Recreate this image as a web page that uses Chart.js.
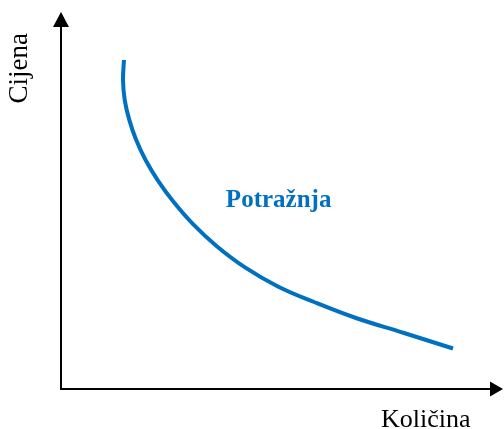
<!DOCTYPE html>
<html>
<head>
<meta charset="utf-8">
<script src="https://cdn.jsdelivr.net/npm/chart.js@4/dist/chart.umd.min.js"></script>
<style>
html,body{margin:0;padding:0;background:#fff;}
#c{display:block;}
</style>
</head>
<body>
<canvas id="c" width="504" height="429"></canvas>
<script>
// Demand curve data (quantity, price) in abstract units 0..100
const quantity = [14.25, 14.03, 14.41, 15.45, 16.99, 19.10, 21.90, 25.36, 29.82, 35.11, 41.63, 49.07, 57.24, 66.74, 77.60, 88.69];
const price    = [87.27, 81.96, 76.68, 71.38, 66.10, 60.82, 55.36, 49.79, 43.79, 38.01, 32.25, 27.21, 23.08, 18.83, 14.85, 10.74];
const axisLabels = {x: 'Količina', y: 'Cijena'};
const curveLabel = 'Potražnja';
const curveLabelPos = [37.3, 48.3];

const points = quantity.map((q, i) => ({x: q, y: price[i]}));

const axesPlugin = {
  id: 'axesArrows',
  afterDraw(chart) {
    const {ctx, scales: {x, y}} = chart;
    const x0 = x.getPixelForValue(0), x1 = x.getPixelForValue(100);
    const y0 = y.getPixelForValue(0), y1 = y.getPixelForValue(100);
    ctx.save();
    ctx.strokeStyle = '#000';
    ctx.fillStyle = '#000';
    ctx.lineWidth = 2;
    ctx.beginPath();
    ctx.moveTo(x0, y1 + 14);
    ctx.lineTo(x0, y0);
    ctx.lineTo(x1 - 13, y0);
    ctx.stroke();
    // top arrow
    ctx.beginPath();
    ctx.moveTo(x0, y1);
    ctx.lineTo(x0 - 8, y1 + 15);
    ctx.lineTo(x0 + 8, y1 + 15);
    ctx.closePath();
    ctx.fill();
    // right arrow
    ctx.beginPath();
    ctx.moveTo(x1, y0);
    ctx.lineTo(x1 - 13, y0 - 7.5);
    ctx.lineTo(x1 - 13, y0 + 7.5);
    ctx.closePath();
    ctx.fill();
    // axis labels
    ctx.font = '26px "Liberation Serif"';
    ctx.textBaseline = 'alphabetic';
    ctx.textAlign = 'left';
    ctx.fillText(axisLabels.x, 381, y0 + 38);
    ctx.save();
    ctx.translate(27, y1 + 21);
    ctx.rotate(-Math.PI / 2);
    ctx.textAlign = 'right';
    ctx.font = '27px "Liberation Serif"';
    ctx.fillText(axisLabels.y, 0, 0);
    ctx.restore();
    // curve label
    ctx.font = 'bold 25px "Liberation Serif"';
    ctx.fillStyle = '#0070C0';
    ctx.textAlign = 'left';
    ctx.fillText(curveLabel, x.getPixelForValue(curveLabelPos[0]), y.getPixelForValue(curveLabelPos[1]));
    ctx.restore();
  }
};

new Chart(document.getElementById('c'), {
  type: 'scatter',
  data: {
    datasets: [{
      data: points,
      showLine: true,
      borderColor: '#0070C0',
      borderWidth: 4,
      borderCapStyle: 'butt',
      borderJoinStyle: 'round',
      pointRadius: 0,
      tension: 0.4,
      fill: false
    }]
  },
  options: {
    responsive: false,
    animation: false,
    events: [],
    layout: {padding: {left: 61, right: 1, top: 12, bottom: 40}},
    plugins: {legend: {display: false}, tooltip: {enabled: false}},
    scales: {
      x: {type: 'linear', min: 0, max: 100, display: false},
      y: {type: 'linear', min: 0, max: 100, display: false}
    }
  },
  plugins: [axesPlugin]
});
</script>
</body>
</html>
